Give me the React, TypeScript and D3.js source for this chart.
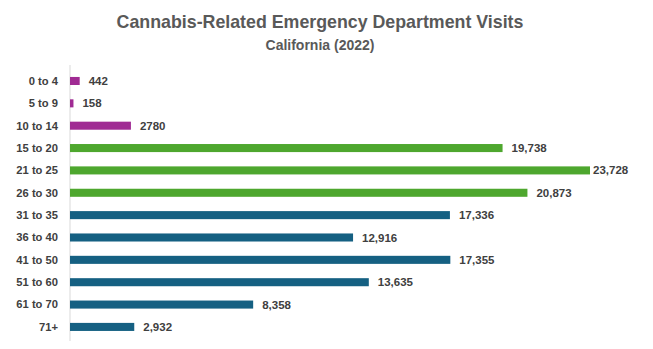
import React from "react";
import * as d3 from "d3";

const categories = ["0 to 4", "5 to 9", "10 to 14", "15 to 20", "21 to 25", "26 to 30", "31 to 35", "36 to 40", "41 to 50", "51 to 60", "61 to 70", "71+"];
const values = [442, 158, 2780, 19738, 23728, 20873, 17336, 12916, 17355, 13635, 8358, 2932];
const labels = ["442", "158", "2780", "19,738", "23,728", "20,873", "17,336", "12,916", "17,355", "13,635", "8,358", "2,932"];
const groups = ["child", "child", "child", "young", "young", "young", "adult", "adult", "adult", "adult", "adult", "adult"];
const groupColors: Record<string, string> = { child: "#A02B93", young: "#4EA72E", adult: "#156082" };

const W = 653, H = 349;
const left = 70, right = 590;

export default function App() {
  const x = d3.scaleLinear().domain([0, d3.max(values) as number]).range([left, right]);
  const y = d3.scaleBand<string>().domain(categories).range([69.8, 338.1]).paddingInner(0.64).paddingOuter(0.32);
  const font = "'Liberation Sans', Arial, sans-serif";
  return (
    <svg width={W} height={H} style={{ position: "absolute", left: 0, top: 0, background: "#fff" }}>
      <text x={320} y={28} textAnchor="middle" fontFamily={font} fontWeight="bold" fontSize={17.8} fill="#595959">Cannabis-Related Emergency Department Visits</text>
      <text x={320} y={50} textAnchor="middle" fontFamily={font} fontWeight="bold" fontSize={14} fill="#595959">California (2022)</text>
      <line x1={left} x2={left} y1={65} y2={341} stroke="#D9D9D9" strokeWidth={1} />
      {categories.map((c, i) => {
        const yc = (y(c) as number) + y.bandwidth() / 2;
        const xe = x(values[i]);
        const lx = Math.min(xe + 9, 593);
        return (
          <g key={c}>
            <text x={58} y={yc} dy="0.35em" textAnchor="end" fontFamily={font} fontWeight="bold" fontSize={11.2} fill="#404040">{c}</text>
            <rect x={left} y={y(c)} width={xe - left} height={y.bandwidth()} fill={groupColors[groups[i]]} />
            <text x={lx} y={yc} dy="0.35em" fontFamily={font} fontWeight="bold" fontSize={11.5} fill="#404040">{labels[i]}</text>
          </g>
        );
      })}
    </svg>
  );
}
